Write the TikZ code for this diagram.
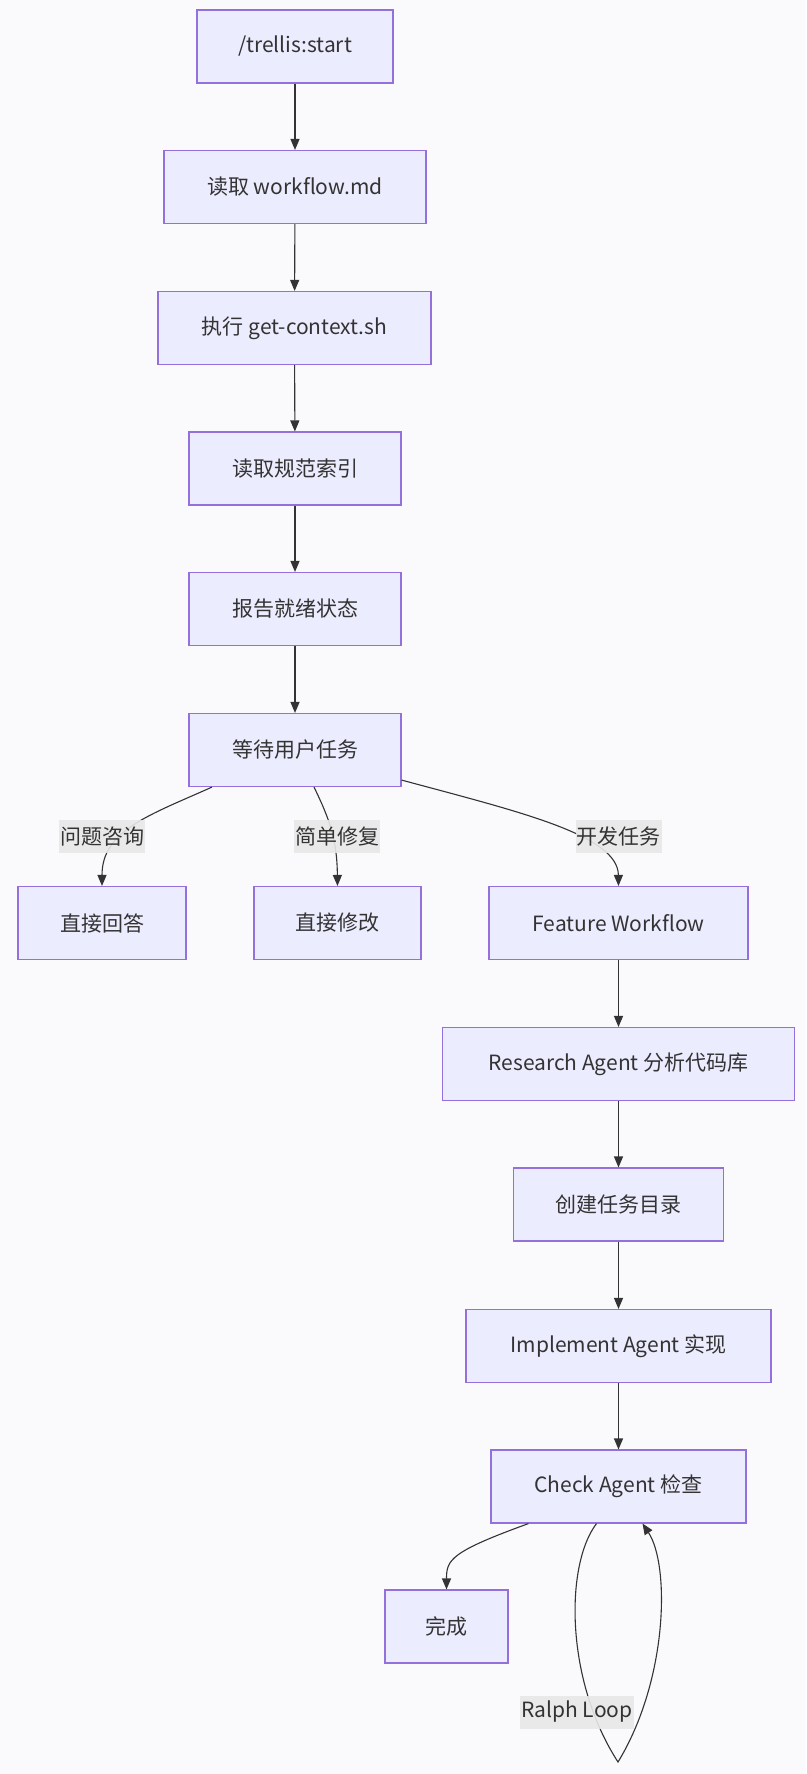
\documentclass[tikz,border=0pt]{standalone}
\usepackage{fontspec}
\setmainfont{Noto Sans CJK SC}
\usetikzlibrary{arrows.meta}
\definecolor{bgc}{RGB}{250,250,253}
\definecolor{nfill}{RGB}{236,236,255}
\definecolor{nline}{RGB}{147,112,219}
\definecolor{eline}{RGB}{51,51,51}
\definecolor{lblbg}{RGB}{232,232,232}
\tikzset{
  box/.style={draw=nline, fill=nfill, line width=1.1pt, minimum height=73pt,
    inner sep=0pt, text=eline, font=\fontsize{21}{25}\selectfont},
  edge/.style={draw=eline, line width=1.1pt, -{Triangle[length=11pt,width=9pt]}},
  lbl/.style={fill=lblbg, fill opacity=0.9, text opacity=1, text=eline,
    inner xsep=1pt, minimum height=33pt, inner ysep=0pt, font=\fontsize{21}{25}\selectfont}
}
\begin{document}
\begin{tikzpicture}[x=1pt,y=-1pt]
\fill[bgc] (0,0) rectangle (806,1774);
\useasboundingbox (0,0) rectangle (806,1774);
\node[box, minimum width=196pt] (start) at (295,46.5) {/trellis:start};
\node[box, minimum width=262pt] (wf) at (295,187) {读取 workflow.md};
\node[box, minimum width=273pt] (ctx) at (294.5,328) {执行 get-context.sh};
\node[box, minimum width=212pt] (idx) at (295,468.5) {读取规范索引};
\node[box, minimum width=212pt] (rpt) at (295,609) {报告就绪状态};
\node[box, minimum width=212pt] (wait) at (295,750) {等待用户任务};
\node[box, minimum width=168pt] (ans) at (102,923) {直接回答};
\node[box, minimum width=167pt] (fix) at (337.5,923) {直接修改};
\node[box, minimum width=259pt] (feat) at (618.5,923) {Feature Workflow};
\node[box, minimum width=352pt] (res) at (618.5,1064) {Research Agent 分析代码库};
\node[box, minimum width=210pt] (dir) at (618.5,1204.5) {创建任务目录};
\node[box, minimum width=305pt] (imp) at (618.5,1346) {Implement Agent 实现};
\node[box, minimum width=255pt] (chk) at (618.5,1486.5) {Check Agent 检查};
\node[box, minimum width=123pt] (done) at (446.5,1626.5) {完成};

\draw[edge] (start) -- (wf);
\draw[edge] (wf) -- (ctx);
\draw[edge] (ctx) -- (idx);
\draw[edge] (idx) -- (rpt);
\draw[edge] (rpt) -- (wait);
\draw[edge] (feat) -- (res);
\draw[edge] (res) -- (dir);
\draw[edge] (dir) -- (imp);
\draw[edge] (imp) -- (chk);

\coordinate (wa) at ([xshift=-83pt]wait.south);
\coordinate (wb) at ([xshift=19pt]wait.south);
\coordinate (wc) at ([yshift=7pt]wait.south east);
\draw[edge] (wa) .. controls (150,815) and (102,830) .. (ans.north);
\draw[edge] (wb) .. controls (330,820) and (337,840) .. (fix.north);
\draw[edge] (wc) .. controls (520,812) and (618,835) .. (feat.north);
\node[lbl] (l1) at (102,836.5) {问题咨询};
\node[lbl] (l2) at (337,836.5) {简单修复};
\node[lbl] (l3) at (618.5,836.5) {开发任务};

\coordinate (ca) at ([xshift=-90pt]chk.south);
\draw[edge] (ca) .. controls (450,1552) and (446.5,1560) .. (done.north);
\coordinate (cb) at ([xshift=-22pt]chk.south);
\coordinate (cc) at ([xshift=24pt]chk.south);
\coordinate (cbot) at (618,1762);
\draw[edge] (cb) .. controls (565,1565) and (565,1680) .. (cbot) .. controls (668,1680) and (670,1565) .. (cc);
\node[lbl] (l4) at (577,1712) {Ralph Loop};
\end{tikzpicture}
\end{document}
